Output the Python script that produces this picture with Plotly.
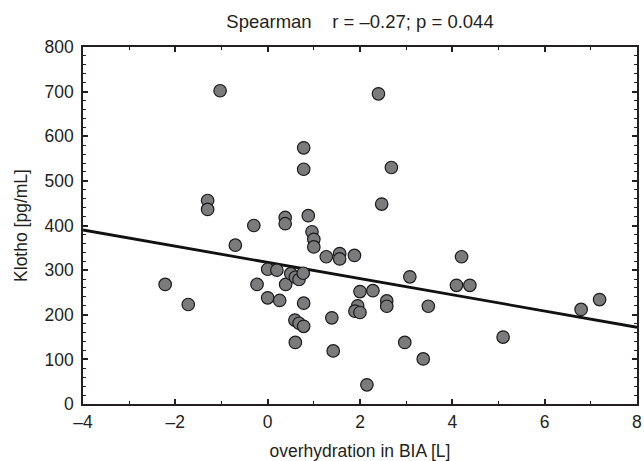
import plotly.graph_objects as go

# Data
overhydration = [-2.22, -1.72, -1.03, -1.3, -1.3, -0.7, -0.3, -0.23, 0.0, 0.2,
                 0.0, 0.26, 0.38, 0.38, 0.39, 0.5, 0.6, 0.68, 0.77, 0.78,
                 0.59, 0.68, 0.78, 0.6, 0.78, 0.78, 0.88, 0.96, 1.0, 1.0,
                 1.27, 1.56, 1.56, 1.88, 1.39, 1.42, 2.15, 2.0, 2.28, 1.95,
                 1.89, 2.0, 2.4, 2.68, 2.47, 2.58, 2.58, 3.08, 2.97, 3.37,
                 3.48, 4.2, 4.09, 4.38, 5.1, 6.79, 7.19]
klotho = [268, 223, 702, 456, 436, 356, 400, 268, 302, 300,
          238, 232, 418, 404, 268, 292, 284, 279, 293, 226,
          188, 181, 174, 138, 574, 526, 422, 386, 369, 352,
          330, 337, 325, 333, 193, 119, 43, 252, 254, 220,
          208, 205, 695, 530, 448, 231, 219, 285, 138, 101,
          219, 330, 266, 266, 150, 212, 234]

fit_x = [-4, 8]
fit_y = [390, 172]

x_ticks = [-4, -2, 0, 2, 4, 6, 8]
x_ticklabels = ["–4", "–2", "0", "2", "4", "6", "8"]
y_ticks = [0, 100, 200, 300, 400, 500, 600, 700, 800]

title_text = "Spearman\u00a0\u00a0\u00a0 r = –0.27; p = 0.044"
x_title = "overhydration in BIA [L]"
y_title = "Klotho [pg/mL]"

FONT = "Liberation Sans, Arial, sans-serif"
INK = "#231f20"
FS = 17.5

fig = go.Figure()
fig.add_trace(go.Scatter(
    x=fit_x, y=fit_y, mode="lines",
    line=dict(color="#111111", width=2.8),
    hoverinfo="skip", showlegend=False))
fig.add_trace(go.Scatter(
    x=overhydration, y=klotho, mode="markers",
    marker=dict(size=12.5, color="#7b7b7d", line=dict(color="#1a1a1a", width=1.2)),
    showlegend=False, cliponaxis=False))

axis_common = dict(
    showgrid=False, zeroline=False, showline=True, linecolor=INK, linewidth=1.6,
    mirror="ticks", ticks="inside", tickcolor=INK, tickwidth=1.5, ticklen=5,
    tickfont=dict(family=FONT, size=FS, color=INK),
    ticklabeloverflow="allow", automargin=False,
)

fig.update_layout(
    template="none",
    width=644, height=461,
    margin=dict(l=83, r=7, t=47, b=57),
    paper_bgcolor="white", plot_bgcolor="white",
    font=dict(family=FONT, size=FS, color=INK),
    title=dict(text=title_text, x=0.5, xref="paper", xanchor="center",
               y=1 - 22 / 461, yref="container", yanchor="middle",
               font=dict(family=FONT, size=18.5, color=INK)),
    xaxis=dict(range=[-4, 8.0005], tickvals=x_ticks, ticktext=x_ticklabels,
               ticklabelstandoff=1,
               minor=dict(dtick=1, ticks="inside", ticklen=3, tickcolor=INK, tickwidth=1.2),
               title=dict(text=x_title, standoff=17,
                          font=dict(family=FONT, size=FS, color=INK)),
               **axis_common),
    yaxis=dict(range=[0, 800], tickvals=y_ticks,
               ticklabelstandoff=4,
               minor=dict(dtick=20, ticks="inside", ticklen=3, tickcolor=INK, tickwidth=1.2),
               title=dict(text=y_title, standoff=12,
                          font=dict(family=FONT, size=FS, color=INK)),
               **axis_common),
)

fig.write_html(
    "out.html",
    config={"displayModeBar": False},
    post_script="document.body.style.margin='0';document.body.style.overflow='hidden';",
)
